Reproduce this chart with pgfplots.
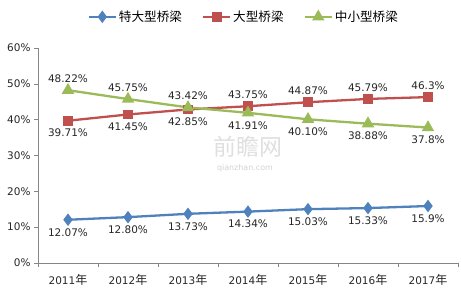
\documentclass[border=0pt]{standalone}
\usepackage{fontspec}
\setmainfont{DejaVu Sans}
\newfontfamily\cjk[Scale=1.15]{Noto Sans CJK SC}
\usepackage{pgfplots}
\usepackage{pgfplotstable}
\pgfplotsset{compat=1.18}
\definecolor{cblue}{HTML}{4F81BD}
\definecolor{cred}{HTML}{C0504D}
\definecolor{cgreen}{HTML}{9BBB59}
\definecolor{axgray}{HTML}{868686}

\pgfplotstableread{
x y lab
0 12.07 12.07
1 12.80 12.80
2 13.73 13.73
3 14.34 14.34
4 15.03 15.03
5 15.33 15.33
6 15.9 15.9
}\tdA
\pgfplotstableread{
x y lab
0 39.71 39.71
1 41.45 41.45
2 42.85 42.85
3 43.75 43.75
4 44.87 44.87
5 45.79 45.79
6 46.3 46.3
}\tdB
\pgfplotstableread{
x y lab
0 48.22 48.22
1 45.75 45.75
2 43.42 43.42
3 41.91 41.91
4 40.10 40.10
5 38.88 38.88
6 37.8 37.8
}\tdC

\begin{document}
\begin{tikzpicture}
\begin{axis}[
  scale only axis,
  width=420bp, height=215bp,
  xmin=-0.5, xmax=6.5, ymin=0, ymax=60,
  axis lines*=left,
  axis line style={axgray, line width=0.6pt},
  xtick={0,...,6},
  xticklabels={2011{\cjk 年},2012{\cjk 年},2013{\cjk 年},2014{\cjk 年},2015{\cjk 年},2016{\cjk 年},2017{\cjk 年}},
  minor xtick={-0.5,0.5,1.5,2.5,3.5,4.5,5.5,6.5},
  major x tick style={draw=none},
  minor x tick style={axgray, line width=0.6pt},
  ytick={0,10,...,60},
  y tick style={axgray, line width=0.6pt},
  tick align=outside,
  major tick length=4bp, minor tick length=4bp,
  yticklabel={\pgfmathprintnumber{\tick}\%},
  /pgf/number format/assume math mode=true,
  tick label style={font=\fontsize{10.5}{12}\selectfont, text=black!85},
  xticklabel style={yshift=-4bp},
  clip=false,
  legend style={at={(0.49,1.145)}, anchor=center, draw=none, fill=none,
    legend columns=3, font=\fontsize{11}{13}\selectfont,
    /tikz/every even column/.append style={column sep=18bp}},
  legend image code/.code={\draw[mark repeat=2,mark phase=2,#1]
    plot coordinates {(0bp,0bp) (13.5bp,0bp) (27bp,0bp)};},
  legend cell align=left,
]
% watermark
\node[text=gray!25, font=\cjk\fontsize{20}{20}\selectfont] at (axis cs:3.0,32.4) {前瞻网};
\node[text=gray!35, font=\fontsize{8}{9}\selectfont] at (axis cs:2.95,26.3) {qianzhan.com};

\addplot[cblue, line width=2.3pt, mark=diamond*, mark size=4.4pt, mark options={solid}] table[x=x,y=y] {\tdA};
\addlegendentry{{\cjk 特大型桥梁}}
\addplot[cred, line width=2.3pt, mark=square*, mark size=3.8pt] table[x=x,y=y] {\tdB};
\addlegendentry{{\cjk 大型桥梁}}
\addplot[cgreen, line width=2.3pt, mark=triangle*, mark size=5pt] table[x=x,y=y] {\tdC};
\addlegendentry{{\cjk 中小型桥梁}}

% labels
\pgfplotsset{
  lbl/.style={draw=none, mark=none, forget plot, point meta=explicit symbolic,
    nodes near coords={\pgfplotspointmeta\%},
    every node near coord/.append style={text=black!85, font=\fontsize{10.5}{12}\selectfont}},
  lblbelow/.style={lbl, nodes near coords style={anchor=north, yshift=-5bp}},
  lblabove/.style={lbl, nodes near coords style={anchor=south, yshift=4bp}},
}
\addplot[lblbelow] table[x=x,y=y,meta=lab] {\tdA};
\addplot[lblbelow, restrict x to domain=0:2] table[x=x,y=y,meta=lab] {\tdB};
\addplot[lblabove, restrict x to domain=3:6] table[x=x,y=y,meta=lab] {\tdB};
\addplot[lblabove, restrict x to domain=0:2] table[x=x,y=y,meta=lab] {\tdC};
\addplot[lblbelow, restrict x to domain=3:6] table[x=x,y=y,meta=lab] {\tdC};
\end{axis}
\pgfresetboundingbox
\useasboundingbox ([shift={(-38bp,-36bp)}]current axis.south west) rectangle ++(461bp,299bp);
\end{tikzpicture}
\end{document}
